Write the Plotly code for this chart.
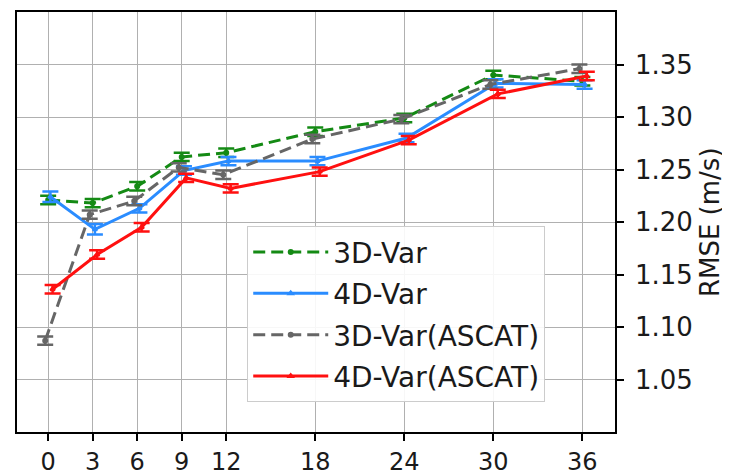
import plotly.graph_objects as go

lead_times = [0, 3, 6, 9, 12, 18, 24, 30, 36]
tick_labels = ["0", "3", "6", "9", "12", "18", "24", "30", "36"]

var3d = [1.221, 1.218, 1.234, 1.262, 1.266, 1.286, 1.299, 1.340, 1.334]
var4d = [1.224, 1.193, 1.213, 1.249, 1.258, 1.258, 1.280, 1.332, 1.331]
var3d_ascat = [1.087, 1.207, 1.220, 1.252, 1.245, 1.279, 1.298, 1.331, 1.346]
var4d_ascat = [1.136, 1.169, 1.195, 1.242, 1.232, 1.248, 1.278, 1.322, 1.339]

err3d = [0.004, 0.004, 0.004, 0.004, 0.004, 0.004, 0.004, 0.004, 0.004]
err4d = [0.005, 0.005, 0.004, 0.004, 0.004, 0.004, 0.004, 0.004, 0.004]
err3d_ascat = [0.004, 0.004, 0.004, 0.004, 0.004, 0.004, 0.004, 0.004, 0.004]
err4d_ascat = [0.004, 0.004, 0.004, 0.004, 0.004, 0.004, 0.004, 0.004, 0.004]

series = [
    ("3D-Var", var3d, err3d, "#148a14", "dash", "circle-open", 0.0),
    ("4D-Var", var4d, err4d, "#2a8cff", "solid", "triangle-up-open", 0.15),
    ("3D-Var(ASCAT)", var3d_ascat, err3d_ascat, "#666666", "dash", "circle-open", -0.2),
    ("4D-Var(ASCAT)", var4d_ascat, err4d_ascat, "#ff1010", "solid", "triangle-up-open", 0.3),
]

FONT = "DejaVu Sans"
fig = go.Figure()
for i, (name, vals, errs, color, dash, sym, off) in enumerate(series):
    fig.add_trace(go.Scatter(
        x=[t + off for t in lead_times], y=vals, name=name, legendgroup=f"g{i}",
        mode="lines+markers",
        line=dict(color=color, width=3, dash="12px,6px" if dash == "dash" else "solid"),
        marker=dict(symbol=sym, size=4, color=color, line=dict(width=2, color=color)),
        error_y=dict(type="data", array=errs, visible=True, color=color, thickness=2.5, width=8),
    ))

# white patch behind legend (hides gridlines as in the reference)
fig.add_shape(type="rect", xref="paper", yref="paper", x0=0.323, x1=0.92, y0=0.06, y1=0.54,
              fillcolor="white", line=dict(width=0), layer="below")

# y-axis title as a rotated annotation on the right
fig.add_annotation(text="RMSE (m/s)", xref="paper", yref="paper", x=1.159, y=0.5,
                   xanchor="center", yanchor="middle", textangle=-90, showarrow=False,
                   font=dict(family=FONT, size=26, color="#1a1a1a"))

# page body adds an 8px offset, so the figure is sized to fit the window after it
fig.update_layout(
    width=722, height=468,
    margin=dict(l=9, r=115, t=4, b=44, autoexpand=False),
    paper_bgcolor="white", plot_bgcolor="white",
    font=dict(family=FONT, size=26, color="#1a1a1a"),
    showlegend=True,
    legend=dict(x=0.385, y=0.490, xanchor="left", yanchor="top",
                bgcolor="rgba(255,255,255,0.9)", bordercolor="#cccccc", borderwidth=1,
                font=dict(family=FONT, size=28, color="#1a1a1a"),
                itemwidth=75, tracegroupgap=2),
    xaxis=dict(range=[-2.1, 38.2], tickmode="array", tickvals=lead_times, ticktext=tick_labels,
               showgrid=True, gridcolor="#b0b0b0", gridwidth=1,
               showline=True, linecolor="black", linewidth=1.5, mirror=True,
               ticks="outside", ticklen=7, tickwidth=1.5, tickcolor="black",
               zeroline=False, tickfont=dict(size=24), automargin=False),
    yaxis=dict(range=[1.0, 1.4], side="right", tickvals=[1.05, 1.10, 1.15, 1.20, 1.25, 1.30, 1.35],
               ticktext=["1.05", "1.10", "1.15", "1.20", "1.25", "1.30", "1.35"],
               showgrid=True, gridcolor="#b0b0b0", gridwidth=1,
               showline=True, linecolor="black", linewidth=1.5, mirror=True,
               ticks="outside", ticklen=7, tickwidth=1.5, tickcolor="black",
               ticklabelstandoff=6,
               zeroline=False, tickfont=dict(size=26), automargin=False),
)

fig.write_html("out.html")
